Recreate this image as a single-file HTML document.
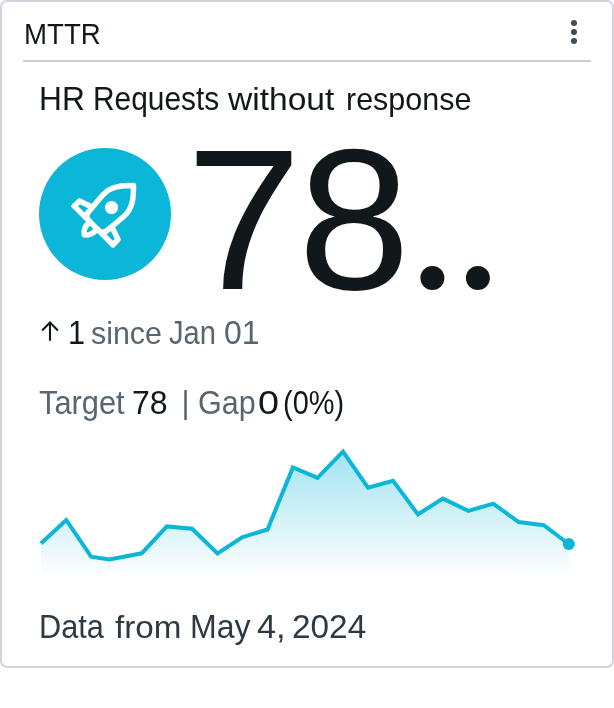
<!DOCTYPE html>
<html lang="en">
<head>
<meta charset="utf-8">
<title>MTTR</title>
<style>
html,body{margin:0;padding:0;background:#fff;}
body{width:614px;height:708px;position:relative;overflow:hidden;font-family:"Liberation Sans",sans-serif;color:#11181b;}
.card{position:absolute;left:0;top:0;width:610px;height:664px;border:2px solid #d0d4df;border-radius:7px;background:#fff;}
.t{position:absolute;white-space:nowrap;line-height:1;transform-origin:0 0;display:block;}
.hr{position:absolute;left:23px;top:60px;width:568px;height:2px;background:#ccd1d1;}
.gray{color:#57666f;}
.foot{color:#2d3a43;}
.kebab{position:absolute;left:571px;top:20px;width:6px;height:24px;}
.kebab i{position:absolute;left:0;width:6px;height:6px;border-radius:50%;background:#3f4d52;}
.circle{position:absolute;left:39px;top:147.8px;width:132px;height:132px;border-radius:50%;background:#0bb6d9;}
</style>
</head>
<body>
<div class="card"></div>
<div id="hdr" class="t" style="left:24.02px;top:18.02px;font-size:30.4px;transform:scaleX(0.9094);">MTTR</div>
<div class="kebab"><i style="top:0"></i><i style="top:9px"></i><i style="top:18px"></i></div>
<div class="hr"></div>
<div class="row" id="title"><span id="t1" class="t" style="left:39.04px;top:81.98px;font-size:33.4px;transform:scaleX(0.9497);">HR</span> <span id="t2" class="t" style="left:93.09px;top:83.04px;font-size:32.5px;transform:scaleX(0.919);">Requests</span> <span id="t3" class="t" style="left:228.0px;top:83.99px;font-size:31.5px;transform:scaleX(1.0655);">without</span> <span id="t4" class="t" style="left:346.01px;top:83.99px;font-size:31.5px;transform:scaleX(0.9671);">response</span></div>
<div class="circle"></div>
<svg id="rocket" style="position:absolute;left:39px;top:147px" width="132" height="132" viewBox="39 147 132 132">
<g transform="matrix(0.7071 -0.7071 0.7071 0.7071 93.6 225.4)" fill="none" stroke="#fff" stroke-width="5.45" stroke-linejoin="round" stroke-linecap="round">
<path stroke-linejoin="miter" d="M0,-12.6 L27.6,-15 C39.96,-16.09 48.7,-7.8 56.4,-0.1 Q56.5,0 56.4,0.1 C48.7,7.8 39.96,16.09 27.6,15 L0,12.6"/>
<path d="M0,-27.3 L0,27.3"/>
<path d="M6,-13.1 Q0,-12.6 0,-6.6 M6,13.1 Q0,12.6 0,6.6"/>
<path d="M0,-27.3 L7.3,-27.3 L12,-13.7"/>
<path d="M0,27.3 L7.3,27.3 L12,13.7"/>
<path d="M0,-5.4 Q-10,-5.6 -13.3,0 Q-10,5.6 0,5.4"/>
<circle cx="25.35" cy="0" r="6.6" fill="#fff" stroke="none"/>
</g>
</svg>
<div class="row" id="big"><span id="n7" class="t" style="left:186.03px;top:119.7px;font-size:200px;transform:scaleX(1.0408);">7</span><span id="n8" class="t" style="left:298.07px;top:119.7px;font-size:200px;transform:scaleX(1.0084);">8</span><span id="dots" class="t" style="left:407px;top:117px;font-size:203px;letter-spacing:-5.15px;font-family:'Liberation Serif',serif;">..</span></div>
<div class="row" id="trend"><svg id="arrow" style="position:absolute;left:38px;top:318px" width="24" height="26" viewBox="38 318 24 26"><path d="M42.1,330.4 L50,322.6 L57.9,330.4 M50,323 L50,340.8" fill="none" stroke="#11181b" stroke-width="2.1"/></svg> <span id="one" class="t" style="left:68.08px;top:315.98px;font-size:33.4px;transform:scaleX(0.9191);">1</span> <span id="since" class="t gray" style="left:91.09px;top:317.99px;font-size:31.5px;transform:scaleX(0.9646);">since</span> <span id="jan" class="t gray" style="left:169.06px;top:317.04px;font-size:32.5px;transform:scaleX(0.8962);">Jan</span> <span id="o1" class="t gray" style="left:224.04px;top:315.98px;font-size:33.4px;transform:scaleX(0.958);">01</span></div>
<div class="row" id="goal"><span id="target" class="t gray" style="left:39.07px;top:387.04px;font-size:32.5px;transform:scaleX(0.948);">Target</span> <span id="v78" class="t" style="left:132.0px;top:385.98px;font-size:33.4px;transform:scaleX(0.9587);">78</span> <span id="bar" class="t gray" style="left:181.5px;top:386.6px;font-size:31px;">|</span> <span id="gap" class="t gray" style="left:198.0px;top:387.04px;font-size:32.5px;transform:scaleX(0.9371);">Gap</span> <span id="zero" class="t" style="left:258.05px;top:385.98px;font-size:33.4px;transform:scaleX(1.1306);">0</span> <span id="pct" class="t" style="left:283.05px;top:385.98px;font-size:33.4px;transform:scaleX(0.8666);">(0%)</span></div>
<svg id="chart" style="position:absolute;left:0;top:440px" width="614" height="150" viewBox="0 440 614 150">
<defs><linearGradient id="g" x1="0" y1="0" x2="0" y2="1"><stop offset="0" stop-color="#0bb6d9" stop-opacity="0.38"/><stop offset="1" stop-color="#0bb6d9" stop-opacity="0"/></linearGradient></defs>
<path fill="url(#g)" d="M41,543.5 L66.2,520 L91.1,556.7 L109.4,559.4 L141.7,553.3 L166.8,526.4 L192.1,528.7 L217.5,553.4 L242.1,537.3 L267.5,529.5 L292.9,467.4 L317.5,477.9 L343,451.7 L368,487.7 L393.1,480.7 L417.9,514.3 L442.9,498.6 L468.3,510.8 L493.3,503.7 L518.7,522.1 L543.7,525.2 L568.8,544 L568.8,578 L41,578 Z"/>
<path fill="none" stroke="#0bb6d9" stroke-width="4" stroke-linejoin="miter" d="M41,543.5 L66.2,520 L91.1,556.7 L109.4,559.4 L141.7,553.3 L166.8,526.4 L192.1,528.7 L217.5,553.4 L242.1,537.3 L267.5,529.5 L292.9,467.4 L317.5,477.9 L343,451.7 L368,487.7 L393.1,480.7 L417.9,514.3 L442.9,498.6 L468.3,510.8 L493.3,503.7 L518.7,522.1 L543.7,525.2 L568.8,544"/>
<circle cx="568.8" cy="544" r="6" fill="#0bb6d9"/>
</svg>
<div class="row" id="foot"><span id="f1" class="t foot" style="left:39.01px;top:611.04px;font-size:32.5px;transform:scaleX(0.9441);">Data</span> <span id="f2" class="t foot" style="left:115.0px;top:611.99px;font-size:31.5px;transform:scaleX(1.0549);">from</span> <span id="f3" class="t foot" style="left:190.01px;top:611.04px;font-size:32.5px;transform:scaleX(0.9863);">May</span> <span id="f4" class="t foot" style="left:257.05px;top:609.98px;font-size:33.4px;transform:scaleX(1.0298);">4,</span> <span id="f5" class="t foot" style="left:292.04px;top:609.98px;font-size:33.4px;transform:scaleX(0.9986);">2024</span></div>
</body>
</html>
